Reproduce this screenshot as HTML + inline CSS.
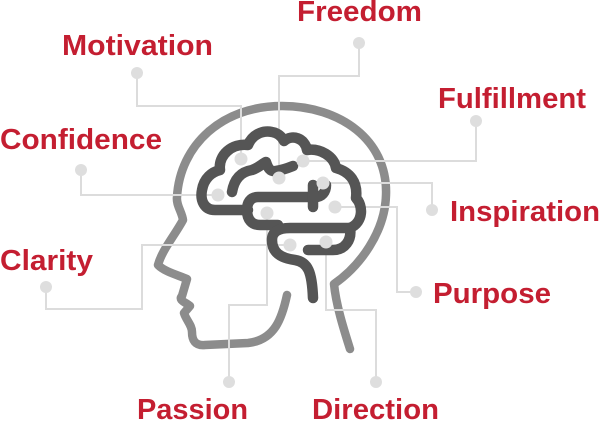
<!DOCTYPE html>
<html><head><meta charset="utf-8"><style>
html,body{margin:0;padding:0;background:#fff;}
svg{display:block;}
text{font-family:"Liberation Sans",Arial,sans-serif;font-weight:bold;fill:#c41e31;font-size:29px;}
</style></head><body>
<svg width="600" height="421" viewBox="0 0 600 421">
<!-- head -->
<path d="M350,349 C344,330 336,305 334,284 C360,266 385,232 386,195 C388,140 340,106 282,106 C222,106 180,145 177,197 C176,205 182,212 183,220 C175,235 162,250 158,265 C165,272 178,275 187,279 L182,296 C178,300 185,302 190,306 L184,313 C186,320 192,325 192,332 C192,340 195,346 205,345 L248,343 C275,340 282,318 287,295" fill="none" stroke="#8c8c8c" stroke-width="8.5" stroke-linecap="round" stroke-linejoin="round"/>
<!-- connectors -->
<g fill="none" stroke="#dcdcdc" stroke-width="2">
<polyline points="137,73 137,106 241,106 241,159"/>
<polyline points="359,43 359,76 279,76 279,178"/>
<polyline points="476,121 476,161 303,161"/>
<polyline points="432,210 432,183 323,183"/>
<polyline points="81,170 81,195 218,195"/>
<polyline points="416,292 397,292 397,207 335,207"/>
<polyline points="46,287 46,309 142,309 142,245 290,245"/>
<polyline points="267,213 267,305 229,305 229,382"/>
<polyline points="326,242 326,310 376,310 376,382"/>
</g>
<!-- brain -->
<g fill="none" stroke="#555" stroke-width="10.5" stroke-linecap="round" stroke-linejoin="round">
<path d="M248,210 L215,210 C204,210 200,200 202,190 C204,178 212,172 220,170 C218,155 232,143 248,145 C252,135 262,130 272,132 C278,133 282,137 284,141 C292,134 305,138 307,150 C320,148 334,156 336,168 C350,172 358,182 356,198 C363,205 364,222 350,228 C352,240 345,250 333,250 L308,250"/>
<path d="M315,197 L258,197 C250,197 247,203 247,210 C247,220 252,225 260,225 L278,225"/>
<path d="M350,228 L290,228 C278,228 272,232 272,240 C272,252 280,258 295,260 C308,262 312,272 313,298"/>
<path d="M313,185 L313,207"/>
<path d="M232,192 C234,180 240,172 252,170 C258,168 262,164 266,162 C268,168 270,172 276,171 C283,170 288,168 293,166"/>
<path d="M315,197 C322,197 326,192 326,185"/>
</g>
<!-- dots -->
<g fill="#dedede">
<circle cx="137" cy="73" r="6"/><circle cx="359" cy="43" r="6"/><circle cx="476" cy="121" r="6"/>
<circle cx="432" cy="210" r="6"/><circle cx="81" cy="170" r="6"/><circle cx="416" cy="292" r="6"/>
<circle cx="46" cy="287" r="6"/><circle cx="229" cy="382" r="6"/><circle cx="376" cy="382" r="6"/>
<circle cx="241" cy="159" r="6.5"/><circle cx="279" cy="178" r="6.5"/><circle cx="303" cy="161" r="6.5"/>
<circle cx="323" cy="183" r="6.5"/><circle cx="218" cy="195" r="6.5"/><circle cx="335" cy="207" r="6.5"/>
<circle cx="290" cy="245" r="6.5"/><circle cx="267" cy="213" r="6.5"/><circle cx="326" cy="242" r="6.5"/>
</g>
<!-- labels -->
<text x="297" y="21" textLength="125" lengthAdjust="spacingAndGlyphs">Freedom</text>
<text x="62" y="55" textLength="151" lengthAdjust="spacingAndGlyphs">Motivation</text>
<text x="438" y="108" textLength="148" lengthAdjust="spacingAndGlyphs">Fulfillment</text>
<text x="0" y="149" textLength="162" lengthAdjust="spacingAndGlyphs">Confidence</text>
<text x="450" y="221" textLength="150" lengthAdjust="spacingAndGlyphs">Inspiration</text>
<text x="0" y="270" textLength="93" lengthAdjust="spacingAndGlyphs">Clarity</text>
<text x="433" y="303" textLength="118" lengthAdjust="spacingAndGlyphs">Purpose</text>
<text x="137" y="419" textLength="111" lengthAdjust="spacingAndGlyphs">Passion</text>
<text x="312" y="419" textLength="127" lengthAdjust="spacingAndGlyphs">Direction</text>
</svg>
</body></html>
